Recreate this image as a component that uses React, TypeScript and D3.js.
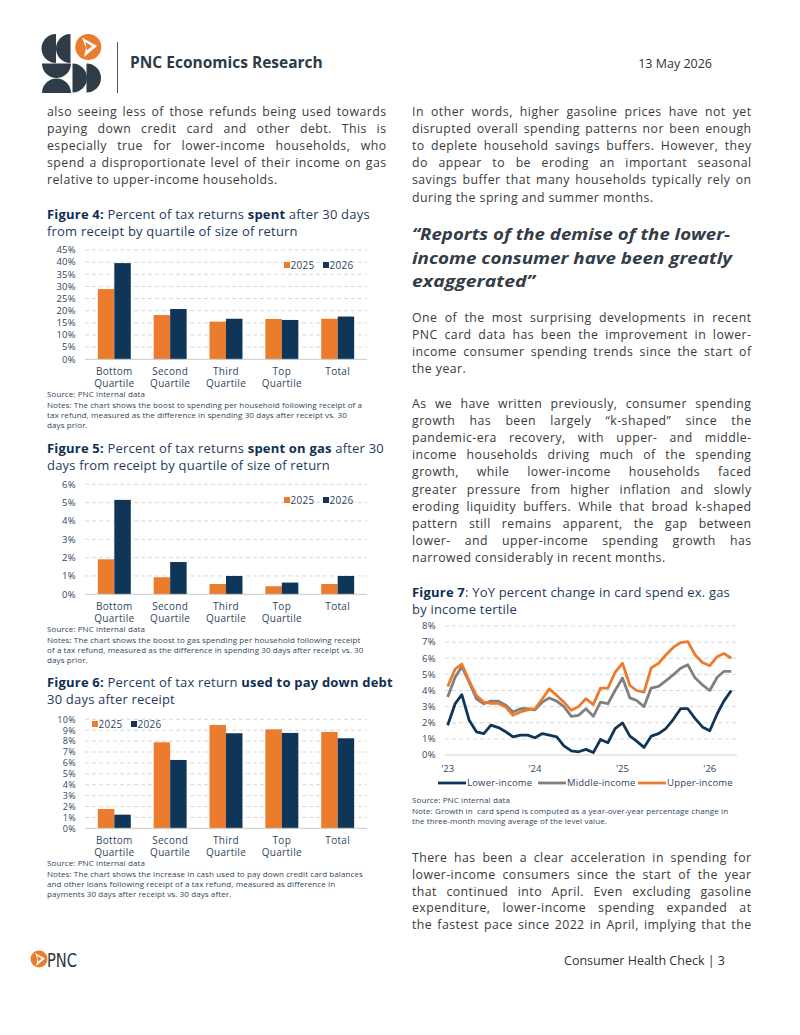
import React, { useLayoutEffect, useRef } from "react";
import * as d3 from "d3";

// ---------- DATA ----------
const quartiles: string[][] = [
  ["Bottom", "Quartile"],
  ["Second", "Quartile"],
  ["Third", "Quartile"],
  ["Top", "Quartile"],
  ["Total", ""],
];
const seriesNames = ["2025", "2026"];

const spent2025 = [28.9, 18.2, 15.5, 16.6, 16.7];
const spent2026 = [39.6, 20.7, 16.7, 16.2, 17.6];
const spentTicks = [0, 5, 10, 15, 20, 25, 30, 35, 40, 45];

const gas2025 = [1.91, 0.93, 0.56, 0.44, 0.56];
const gas2026 = [5.15, 1.76, 1.0, 0.64, 1.0];
const gasTicks = [0, 1, 2, 3, 4, 5, 6];

const debt2025 = [1.77, 7.89, 9.48, 9.08, 8.84];
const debt2026 = [1.25, 6.27, 8.72, 8.75, 8.26];
const debtTicks = [0, 1, 2, 3, 4, 5, 6, 7, 8, 9, 10];

// Figure 7: monthly, Jan 2023 .. Apr 2026
const lowerIncome = [
  1.85, 3.18, 3.74, 2.15, 1.44, 1.33, 1.85, 1.7, 1.44, 1.13, 1.23, 1.23,
  1.07, 1.33, 1.23, 1.13, 0.57, 0.25, 0.2, 0.35, 0.15, 0.96, 0.76, 1.64,
  1.99, 1.17, 0.86, 0.47, 1.17, 1.33, 1.64, 2.2, 2.87, 2.87, 2.26, 1.74,
  1.5, 2.56, 3.34, 4.0,
];
const middleIncome = [
  3.6, 4.82, 5.48, 4.5, 3.49, 3.18, 3.34, 3.34, 3.08, 2.67, 2.87, 2.87,
  2.8, 3.28, 3.54, 3.34, 3.0, 2.4, 2.46, 2.87, 2.4, 3.28, 3.18, 4.0,
  4.77, 3.54, 3.38, 3.0, 4.15, 4.25, 4.6, 4.97, 5.38, 5.6, 4.77, 4.35,
  4.0, 4.82, 5.18, 5.18,
];
const upperIncome = [
  4.25, 5.33, 5.64, 4.6, 3.69, 3.28, 3.2, 3.2, 2.97, 2.46, 2.67, 2.8,
  2.87, 3.49, 4.1, 3.69, 3.28, 2.77, 3.0, 3.49, 3.13, 4.15, 4.15, 5.13,
  5.69, 4.31, 4.0, 3.9, 5.4, 5.69, 6.2, 6.67, 6.97, 7.03, 6.2, 5.74,
  5.54, 6.1, 6.3, 6.0,
];
const lineSeriesNames = ["Lower-income", "Middle-income", "Upper-income"];
const lineTicks = [0, 1, 2, 3, 4, 5, 6, 7, 8];
const yearTicks = ["'23", "'24", "'25", "'26"];

// ---------- TEXT ----------
const leftPara = [
  "also seeing less of those refunds being used towards",
  "paying down credit card and other debt. This is",
  "especially true for lower-income households, who",
  "spend a disproportionate level of their income on gas",
  "relative to upper-income households.",
];
const rightPara1 = [
  "In other words, higher gasoline prices have not yet",
  "disrupted overall spending patterns nor been enough",
  "to deplete household savings buffers. However, they",
  "do appear to be eroding an important seasonal",
  "savings buffer that many households typically rely on",
  "during the spring and summer months.",
];
const heading = [
  "\u201cReports of the demise of the lower-",
  "income consumer have been greatly",
  "exaggerated\u201d",
];
const rightPara2 = [
  "One of the most surprising developments in recent",
  "PNC card data has been the improvement in lower-",
  "income consumer spending trends since the start of",
  "the year.",
];
const rightPara3 = [
  "As we have written previously, consumer spending",
  "growth has been largely \u201ck-shaped\u201d since the",
  "pandemic-era recovery, with upper- and middle-",
  "income households driving much of the spending",
  "growth, while lower-income households faced",
  "greater pressure from higher inflation and slowly",
  "eroding liquidity buffers. While that broad k-shaped",
  "pattern still remains apparent, the gap between",
  "lower- and upper-income spending growth has",
  "narrowed considerably in recent months.",
];
const rightPara4 = [
  "There has been a clear acceleration in spending for",
  "lower-income consumers since the start of the year",
  "that continued into April. Even excluding gasoline",
  "expenditure, lower-income spending expanded at",
  "the fastest pace since 2022 in April, implying that the",
];
const fig4Notes = [
  "Source: PNC internal data",
  "Notes: The chart shows the boost to spending per household following receipt of a",
  "tax refund, measured as the difference in spending 30 days after receipt vs. 30",
  "days prior.",
];
const fig5Notes = [
  "Source: PNC internal data",
  "Notes: The chart shows the boost to gas spending per household following receipt",
  "of a tax refund, measured as the difference in spending 30 days after receipt vs. 30",
  "days prior.",
];
const fig6Notes = [
  "Source: PNC internal data",
  "Notes: The chart shows the increase in cash used to pay down credit card balances",
  "and other loans following receipt of a tax refund, measured as difference in",
  "payments 30 days after receipt vs. 30 days after.",
];
const fig7Notes = [
  "Source: PNC internal data",
  "Note: Growth in  card spend is computed as a year-over-year percentage change in",
  "the three-month moving average of the level value.",
];

// ---------- STYLE ----------
const FONT = "'Open Sans', 'Noto Sans', sans-serif";
const ORANGE = "#EB7B2D";
const NAVY = "#0F3659";
const GRAY = "#808080";
const TEXT = "#3a3a3a";
const TITLE = "#1f3a5c";
const AXIS = "#2f4560";
const GRID = "#cfcfcf";
const LOGO = "#2f3b47";

type Seg = { t: string; b?: boolean };

function Para({ x, y, lh, w, lines, size = 12.3, justifyLast = false }: any) {
  return (
    <g fontFamily={FONT} fontSize={size} fill={TEXT} letterSpacing={0.45}>
      {lines.map((l: string, i: number) => {
        const just = i < lines.length - 1 || justifyLast;
        return (
          <text
            key={i}
            x={x}
            y={y + i * lh}
            className={just ? "just" : undefined}
            data-w={w}
            style={{ whiteSpace: "pre" }}
          >
            {l}
          </text>
        );
      })}
    </g>
  );
}

function Title({ x, y, l1, l2 }: { x: number; y: number; l1: Seg[]; l2: string }) {
  return (
    <g fontFamily={FONT} fontSize={13} fill={TITLE} letterSpacing={0.2}>
      <text x={x} y={y} style={{ whiteSpace: "pre" }}>
        {l1.map((s, i) => (
          <tspan key={i} fontWeight={s.b ? 700 : 400} fill={s.b ? "#0f2f52" : TITLE}>
            {s.t}
          </tspan>
        ))}
      </text>
      <text x={x} y={y + 17}>{l2}</text>
    </g>
  );
}

function Notes({ x, y, lines }: { x: number; y: number; lines: string[] }) {
  return (
    <g fontFamily={FONT} fontSize={8} fill={AXIS} letterSpacing={0.1}>
      {lines.map((l, i) => (
        <text key={i} x={x} y={y + (i === 0 ? 0 : 11 + (i - 1) * 10)} style={{ whiteSpace: "pre" }}>
          {l}
        </text>
      ))}
    </g>
  );
}

function BarChart({
  y0, yTop, maxV, ticks, a, b, legend, labY, tickSize = 9.5,
}: {
  y0: number; yTop: number; maxV: number; ticks: number[]; a: number[]; b: number[];
  legend: { x: number; y: number }; labY: number; tickSize?: number;
}) {
  const x = d3.scaleBand<number>().domain(d3.range(quartiles.length)).range([85, 367]).paddingInner(0.41).paddingOuter(0.23);
  const xs = d3.scaleBand<number>().domain([0, 1]).range([0, x.bandwidth()]).padding(0);
  const y = d3.scaleLinear().domain([0, maxV]).range([y0, yTop]);
  return (
    <g fontFamily={FONT}>
      {ticks.map((t) => (
        <g key={t}>
          {t > 0 && (
            <line x1={85} x2={367} y1={y(t)} y2={y(t)} stroke={GRID} strokeWidth={0.8} strokeDasharray="4,3" />
          )}
          <text x={76} y={y(t) + 3.3} textAnchor="end" fontSize={tickSize} fill={AXIS} letterSpacing={0.3}>
            {t}%
          </text>
        </g>
      ))}
      {quartiles.map((q, i) => (
        <g key={i}>
          <rect x={x(i)! + xs(0)!} width={xs.bandwidth()} y={y(a[i])} height={y0 - y(a[i])} fill={ORANGE} />
          <rect x={x(i)! + xs(1)!} width={xs.bandwidth()} y={y(b[i])} height={y0 - y(b[i])} fill={NAVY} />
          <text x={x(i)! + x.bandwidth() / 2} y={labY} textAnchor="middle" fontSize={10} fill={AXIS} letterSpacing={0.3}>
            {q[0]}
          </text>
          <text x={x(i)! + x.bandwidth() / 2} y={labY + 12} textAnchor="middle" fontSize={10} fill={AXIS} letterSpacing={0.3}>
            {q[1]}
          </text>
        </g>
      ))}
      <line x1={85} x2={367} y1={y0} y2={y0} stroke="#c8c8c8" strokeWidth={1} />
      <g fontSize={10} fill={AXIS} letterSpacing={0.3}>
        <rect x={legend.x} y={legend.y - 3} width={6} height={6} fill={ORANGE} />
        <text x={legend.x + 6.5} y={legend.y + 3.5}>{seriesNames[0]}</text>
        <rect x={legend.x + 39} y={legend.y - 3} width={6} height={6} fill={NAVY} />
        <text x={legend.x + 45.5} y={legend.y + 3.5}>{seriesNames[1]}</text>
      </g>
    </g>
  );
}

function LineChart() {
  const dates = lowerIncome.map((_, i) => new Date(2023, i, 1));
  const x = d3.scaleTime().domain([dates[0], dates[dates.length - 1]]).range([447.7, 731.3]);
  const y = d3.scaleLinear().domain([0, 8]).range([755, 626]);
  const line = d3.line<number>().x((_, i) => x(dates[i])).y((d) => y(d));
  const series = [
    { v: lowerIncome, c: NAVY },
    { v: middleIncome, c: GRAY },
    { v: upperIncome, c: ORANGE },
  ];
  const legendX = [438, 538, 638];
  return (
    <g fontFamily={FONT}>
      {lineTicks.map((t) => (
        <g key={t}>
          {t > 0 && (
            <line x1={445} x2={737} y1={y(t)} y2={y(t)} stroke={GRID} strokeWidth={0.8} strokeDasharray="4,3" />
          )}
          <text x={436} y={y(t) + 3.3} textAnchor="end" fontSize={9.5} fill={AXIS} letterSpacing={0.3}>
            {t}%
          </text>
        </g>
      ))}
      <line x1={445} x2={737} y1={y(0)} y2={y(0)} stroke="#d0d0d0" strokeWidth={1} />
      {yearTicks.map((t, i) => (
        <text key={t} x={x(new Date(2023 + i, 0, 1))} y={772} textAnchor="middle" fontSize={9.5} fill={AXIS}>
          {t}
        </text>
      ))}
      {series.map((s, i) => (
        <path key={i} d={line(s.v)!} fill="none" stroke={s.c} strokeWidth={2.8} strokeLinejoin="round" />
      ))}
      {series.map((s, i) => (
        <g key={i}>
          <line x1={legendX[i]} x2={legendX[i] + 28} y1={783} y2={783} stroke={s.c} strokeWidth={2.8} />
          <text x={legendX[i] + 29} y={786.3} fontSize={9.5} fill={AXIS} letterSpacing={0.2}>
            {lineSeriesNames[i]}
          </text>
        </g>
      ))}
    </g>
  );
}

function HeaderLogo() {
  return (
    <g>
      <path d="M56,34 A14.5,14.5 0 0 0 56,63 Z" fill={LOGO} />
      <path d="M70.5,34 A14.5,14.5 0 0 0 70.5,63 Z" fill={LOGO} />
      <path d="M42,63.5 A14.5,14.5 0 0 0 71,63.5 Z" fill={LOGO} />
      <path d="M42,93 A14.5,14.5 0 0 1 71,93 Z" fill={LOGO} />
      <path d="M72.5,63.5 A14.5,14.5 0 0 1 72.5,92.5 Z" fill={LOGO} />
      <path d="M86.5,63.5 A14.5,14.5 0 0 1 86.5,92.5 Z" fill={LOGO} />
      <circle cx={88.3} cy={47} r={13} fill={ORANGE} />
      <path d="M82,37.5 L97,46 L84,57 L86,48 Z" fill="#fff" />
      <path d="M85.5,42 L92,46.3 L86.7,50.5 Z" fill={ORANGE} />
      <line x1={117.5} x2={117.5} y1={42} y2={93} stroke="#555" strokeWidth={1} />
    </g>
  );
}

function FooterLogo() {
  return (
    <g>
      <circle cx={39} cy={959} r={8.5} fill={ORANGE} />
      <path d="M35,953 L45,958.5 L36.2,966 L37.5,959.5 Z" fill="#fff" />
      <path d="M37.4,956 L41.8,958.7 L38.2,961.6 Z" fill={ORANGE} />
      <text x={47} y={966.5} fontFamily="'Liberation Sans Narrow', 'DejaVu Sans Condensed', sans-serif" fontSize={20} fill="#2b3a47" textLength={30} lengthAdjust="spacingAndGlyphs">
        PNC
      </text>
    </g>
  );
}

export default function App() {
  const ref = useRef<SVGSVGElement>(null);
  useLayoutEffect(() => {
    if (!ref.current) return;
    d3.select(ref.current)
      .selectAll<SVGTextElement, unknown>("text.just")
      .each(function () {
        const el = this;
        const target = +(el.getAttribute("data-w") || 0);
        el.setAttribute("word-spacing", "0");
        const len = el.getComputedTextLength();
        const spaces = ((el.textContent || "").match(/ /g) || []).length;
        if (spaces > 0) el.setAttribute("word-spacing", String(Math.max(0, (target - len) / spaces)));
      });
  });

  return (
    <svg ref={ref} width={800} height={1035} style={{ position: "absolute", left: 0, top: 0, background: "#fff" }}>
      <rect width={800} height={1035} fill="#fff" />
      <HeaderLogo />
      <text x={130} y={68} fontFamily={FONT} fontWeight={700} fontSize={15.5} fill="#2b3a47">
        PNC Economics Research
      </text>
      <text x={712} y={68} textAnchor="end" fontFamily={FONT} fontSize={12.5} fill="#333">
        13 May 2026
      </text>

      <Para x={47} y={116} lh={17.1} w={339.5} lines={leftPara} />

      <Title x={47} y={219} l1={[{ t: "Figure 4:", b: true }, { t: " Percent of tax returns " }, { t: "spent", b: true }, { t: " after 30 days" }]} l2="from receipt by quartile of size of return" />
      <BarChart y0={359.3} yTop={250} maxV={45} ticks={spentTicks} a={spent2025} b={spent2026} legend={{ x: 284, y: 265 }} labY={375} />
      <Notes x={47} y={397} lines={fig4Notes} />

      <Title x={47} y={453} l1={[{ t: "Figure 5:", b: true }, { t: " Percent of tax returns " }, { t: "spent on gas", b: true }, { t: " after 30" }]} l2="days from receipt by quartile of size of return" />
      <BarChart y0={594.3} yTop={484.3} maxV={6} ticks={gasTicks} a={gas2025} b={gas2026} legend={{ x: 284, y: 500 }} labY={610} />
      <Notes x={47} y={632} lines={fig5Notes} />

      <Title x={47} y={687} l1={[{ t: "Figure 6:", b: true }, { t: " Percent of tax return " }, { t: "used to pay down debt", b: true }]} l2="30 days after receipt" />
      <BarChart y0={828.3} yTop={719.3} maxV={10} ticks={debtTicks} a={debt2025} b={debt2026} legend={{ x: 92, y: 724 }} labY={844} tickSize={9} />
      <Notes x={47} y={866} lines={fig6Notes} />

      <Para x={412} y={116} lh={17.1} w={339.5} lines={rightPara1} />
      <g fontFamily={FONT} fontSize={16.5} fontWeight={700} fontStyle="italic" fill="#333d47">
        <text x={412} y={240} textLength={318} lengthAdjust="spacingAndGlyphs">{heading[0]}</text>
        <text x={412} y={264} textLength={320} lengthAdjust="spacingAndGlyphs">{heading[1]}</text>
        <text x={412} y={287} textLength={123} lengthAdjust="spacingAndGlyphs">{heading[2]}</text>
      </g>
      <Para x={412} y={322} lh={17.1} w={339.5} lines={rightPara2} />
      <Para x={412} y={408} lh={17.1} w={339.5} lines={rightPara3} />

      <Title x={412} y={597} l1={[{ t: "Figure 7", b: true }, { t: ": YoY percent change in card spend ex. gas" }]} l2="by income tertile" />
      <LineChart />
      <Notes x={412} y={803} lines={fig7Notes} />

      <Para x={412} y={862} lh={16.8} w={339.5} lines={rightPara4} justifyLast={true} />

      <FooterLogo />
      <text x={725} y={965} textAnchor="end" fontFamily={FONT} fontSize={12.5} fill="#333">
        Consumer Health Check |  3
      </text>
    </svg>
  );
}
